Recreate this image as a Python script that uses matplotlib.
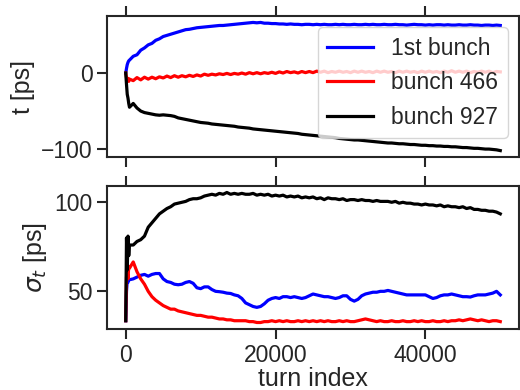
import matplotlib
matplotlib.use("Agg")
import matplotlib.pyplot as plt
import numpy as np

# turn index grid: dense at the start, then every 500 turns
turns = np.concatenate([[0, 100, 200, 300, 400], np.arange(500, 50001, 500)])

# mean bunch position t [ps]
t_first = [0, 6, 11, 14, 16,
           17, 22, 24, 30, 33, 37, 39, 43, 45, 48,
           49.5, 51, 52.5, 54, 55.5, 57, 57.5, 58.5, 59.5, 60,
           60.5, 61, 61.5, 62, 62.5, 62.5, 63, 63.5, 64, 64.5,
           65, 65.5, 66, 66.5, 66, 66.5, 65.5, 65.5, 65, 65,
           64.5, 64.5, 64, 64.5, 64, 64, 63.5, 64, 64, 63.5,
           64, 63.5, 64, 63.5, 63.5, 64, 63.5, 64, 63.5, 63.5,
           64, 63.5, 63.5, 64, 63.5, 64, 63.5, 63.5, 64, 63.5,
           63.5, 64, 63.5, 63.5, 63, 63.5, 64, 63.5, 63.5, 63,
           63.5, 63, 63.5, 63.5, 63, 63.5, 63, 63, 63.5, 63,
           63, 63.5, 63, 63, 62.5, 63, 63, 62.5, 63, 62.5]
t_466 = [0, -6, -10, -7, -11,
         -8, -10, -6, -9, -5.5, -8, -5.5, -7.5, -5, -6.5,
         -4, -6, -3.5, -5.5, -3.5, -5, -3, -4.5, -2.5, -4,
         -1.5, -3, -1.5, -2.5, -1, -2, -0.5, -2, -0.5, -1.5,
         0, -1.5, 0.5, -1, 0.5, -1, 0.5, -0.5, 1, -0.5,
         1.5, 0, 2, 0.5, 1.5, 0, 2, 0.5, 2, 0.5,
         2.5, 1, 2.5, 0.5, 2, 1, 2.5, 1, 2, 0.5,
         2.5, 1, 2.5, 1, 2, 0.5, 2.5, 1, 2.5, 1,
         2, 0.5, 2.5, 1, 2.5, 1, 2, 0.5, 2.5, 1,
         2.5, 1, 2, 0.5, 2.5, 1, 3, 1, 2.5, 1,
         2.5, 0.5, 2, 1, 2.5, 1, 2.5, 0.5, 2, 1.5]
t_927 = [0, -15, -28, -33, -40,
         -45, -40, -46, -50, -52, -53, -54, -55, -55.5, -55,
         -55.5, -56, -57, -59, -60, -61, -62, -63, -64, -65,
         -65.5, -66, -67, -67.5, -68, -68.5, -69, -69.5, -70, -71,
         -71.5, -72, -72.5, -73.5, -74, -74.5, -75, -75.5, -76, -76.5,
         -77, -77.5, -78, -78.5, -79, -79.5, -80.5, -81, -81.5, -82,
         -82.5, -83, -83.5, -84, -84.5, -85, -86, -86.5, -87, -87.5,
         -88, -88, -88.5, -89, -89.5, -90, -90.5, -91, -91.5, -92,
         -92, -92.5, -93, -93, -93.5, -94, -94, -94.5, -95, -95,
         -95.5, -95.5, -96, -96, -96.5, -96.5, -97, -97, -97.5, -98,
         -98, -98.5, -99, -99, -99.5, -100, -100, -100.5, -101, -102]

# bunch length sigma_t [ps]
s_first = [33.5, 50, 56, 55, 57,
           56.5, 57, 58, 59, 59.5, 58.5, 59.5, 60, 60, 57,
           55.5, 55, 54, 53.7, 54, 55, 55.5, 54.5, 52, 51.5,
           52.5, 52.5, 51, 50, 49.8, 49.5, 49, 48.8, 48, 47.5,
           46, 43.5, 42.5, 41.5, 41, 41.5, 43, 45, 46, 46.5,
           46, 47, 47, 46.5, 47, 46.5, 46, 46.5, 47.5, 48.5,
           48, 47.5, 47, 47, 46.5, 46, 46.5, 47.5, 47.5, 45.5,
           44.5, 45.5, 47.5, 48.5, 49, 49.5, 49.5, 50, 50, 50.5,
           50, 49.5, 49, 48.5, 48, 48, 48, 48, 48, 48,
           47, 46, 46.5, 47.5, 48, 48, 48.5, 48, 47.5, 47,
           47, 46.8, 47.5, 48, 48, 48, 48.5, 49, 50, 48]
s_466 = [33.5, 58, 61, 57, 64,
         63, 66.5, 61, 57, 54, 50, 47, 45, 43.5, 42,
         41, 40, 40, 39, 38.5, 38, 37.5, 37, 36.5, 36.5,
         36, 35.5, 35.5, 35, 34.5, 34.5, 34, 34, 33.5, 33.5,
         33.5, 33.5, 33, 33, 32.5, 32.5, 33, 33, 33.5, 33,
         33.5, 33, 33.5, 33, 33, 33.5, 33, 33.5, 33, 33.5,
         33, 33.5, 33, 33.5, 33, 33, 33.5, 33, 33.5, 33,
         33, 33.5, 34, 34.5, 34, 33.5, 33, 33.5, 33, 33,
         33.5, 33, 33, 33.5, 33, 33, 33.5, 33, 33.5, 33,
         33, 33.5, 33, 33, 33.5, 33, 33.5, 33.5, 34, 33.5,
         34, 34.5, 34, 33.5, 34, 33.5, 33, 33.5, 33.5, 33]
s_927 = [33.5, 80, 62, 81, 70,
         76, 76, 78, 79, 81, 86, 88.5, 91, 93.5, 95,
         96.5, 97.5, 99, 99.5, 100, 100.5, 101.5, 102, 102, 102.5,
         103.5, 104, 104.5, 104, 105, 104.5, 105.5, 104.5, 105, 104.5,
         105, 104.5, 104.5, 105, 104, 104.5, 104, 104.5, 103.5, 104,
         103.5, 104, 103, 103.5, 103, 103.5, 102.5, 103, 102.5, 103,
         102, 102.5, 101.5, 102.5, 102, 102, 101.5, 102, 101, 101.5,
         101.5, 101, 101.5, 101, 101, 100.5, 101, 100.5, 100.5, 100.5,
         100, 100.5, 99.5, 100, 99.5, 99.5, 99, 99, 98.5, 99,
         98.5, 98.5, 98, 98.5, 97.5, 98, 97.5, 97.5, 97, 97.5,
         96.5, 97, 96, 96, 95.5, 95.5, 95, 95, 94.5, 93.5]

labels = ['1st bunch', 'bunch 466', 'bunch 927']
colors = ['blue', 'red', 'black']

plt.rcParams['font.family'] = ['Liberation Sans', 'DejaVu Sans']
plt.rcParams['font.size'] = 16.5
plt.rcParams['axes.labelsize'] = 18
plt.rcParams['axes.edgecolor'] = '#262626'
plt.rcParams['axes.linewidth'] = 1.5
plt.rcParams['xtick.color'] = '#262626'
plt.rcParams['ytick.color'] = '#262626'
plt.rcParams['text.color'] = '#262626'
plt.rcParams['axes.labelcolor'] = '#262626'
plt.rcParams['xtick.major.size'] = 7
plt.rcParams['ytick.major.size'] = 7
plt.rcParams['xtick.major.width'] = 1.5
plt.rcParams['ytick.major.width'] = 1.5
plt.rcParams['xtick.top'] = True

fig = plt.figure(figsize=(5.2, 3.9), dpi=100)
ax1 = fig.add_axes([0.2058, 0.5974, 0.7923, 0.3615])
ax2 = fig.add_axes([0.2058, 0.1564, 0.7923, 0.3667], sharex=ax1)

for y, lab, c in zip([t_first, t_466, t_927], labels, colors):
    ax1.plot(turns, y, color=c, lw=2.3, label=lab)
for y, c in zip([s_first, s_466, s_927], colors):
    ax2.plot(turns, y, color=c, lw=2.3)

ax1.set_ylabel('t [ps]')
ax1.set_yticks([-100, 0])
ax1.tick_params(labelbottom=False)
ax1.legend(loc='upper right', framealpha=0.8, edgecolor='0.8', fontsize=16.5)

ax2.set_ylabel(r'$\sigma_t$ [ps]')
ax2.set_xlabel('turn index', labelpad=0)
ax2.set_yticks([50, 100])
ax2.set_xticks([0, 20000, 40000])

fig.savefig('out.png', dpi=100)
